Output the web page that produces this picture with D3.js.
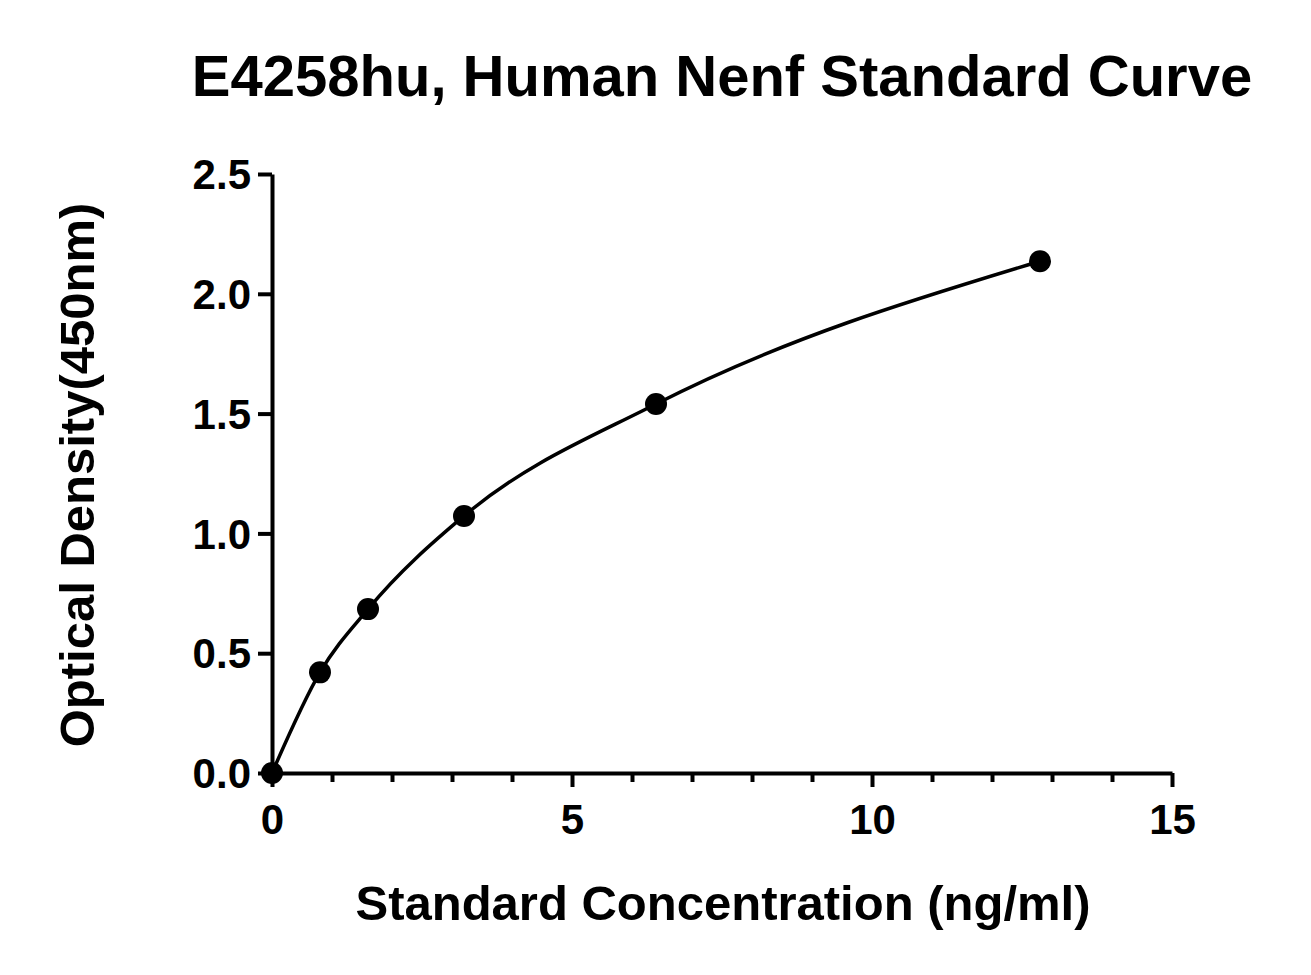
<!DOCTYPE html>
<html><head><meta charset="utf-8">
<script src="https://cdn.jsdelivr.net/npm/d3@7"></script>
<style>body{margin:0;background:#fff}text{font-family:"Liberation Sans",Arial,sans-serif;font-weight:bold;fill:#000}</style>
</head><body>
<svg id="c" width="1311" height="975"></svg>
<script>
const concentrations=[0,0.8,1.6,3.2,6.4,12.8];
const densities=[0,0.42,0.684,1.073,1.54,2.136];
const xTicks=[0,5,10,15];
const yTicks=[0,0.5,1.0,1.5,2.0,2.5];
const svg=d3.select("#c");
const x=d3.scaleLinear().domain([0,15]).range([272,1172]);
const y=d3.scaleLinear().domain([0,2.5]).range([773,174]);
const data=concentrations.map((c,i)=>({c,d:densities[i]}));
const xa=svg.append("g").attr("transform","translate(0,773)")
 .call(d3.axisBottom(x).tickValues(xTicks).tickFormat(d3.format("d")).tickSize(14).tickSizeOuter(0));
const xm=svg.append("g").attr("transform","translate(0,773)")
 .call(d3.axisBottom(x).tickValues(d3.range(1,15).filter(v=>v%5)).tickFormat("").tickSize(9).tickSizeOuter(0));
const ya=svg.append("g").attr("transform","translate(272,0)")
 .call(d3.axisLeft(y).tickValues(yTicks).tickFormat(d3.format(".1f")).tickSize(14).tickSizeOuter(0));
[xa,xm,ya].forEach(g=>{g.attr("font-size",null).attr("font-family",null);g.select(".domain").attr("stroke-width",4);g.selectAll("line").attr("stroke-width",4);g.selectAll("text").style("font-size","42px");});
xm.select(".domain").remove();
xa.selectAll("text").attr("dy","1.05em");
ya.selectAll("text").attr("dx","-4px").attr("dy","0.35em");
svg.append("path").datum(data).attr("fill","none").attr("stroke","#000").attr("stroke-width",3.5)
 .attr("d",d3.line().x(d=>x(d.c)).y(d=>y(d.d)).curve(d3.curveMonotoneX));
svg.selectAll("circle").data(data).join("circle").attr("cx",d=>x(d.c)).attr("cy",d=>y(d.d)).attr("r",11).attr("fill","#000");
svg.append("text").attr("x",722).attr("y",96).attr("text-anchor","middle").style("font-size","58px").text("E4258hu, Human Nenf Standard Curve");
svg.append("text").attr("x",723).attr("y",920).attr("text-anchor","middle").style("font-size","49px").text("Standard Concentration (ng/ml)");
svg.append("text").attr("transform","translate(94,475) rotate(-90)").attr("text-anchor","middle").style("font-size","49px").text("Optical Density(450nm)");
</script>
</body></html>
